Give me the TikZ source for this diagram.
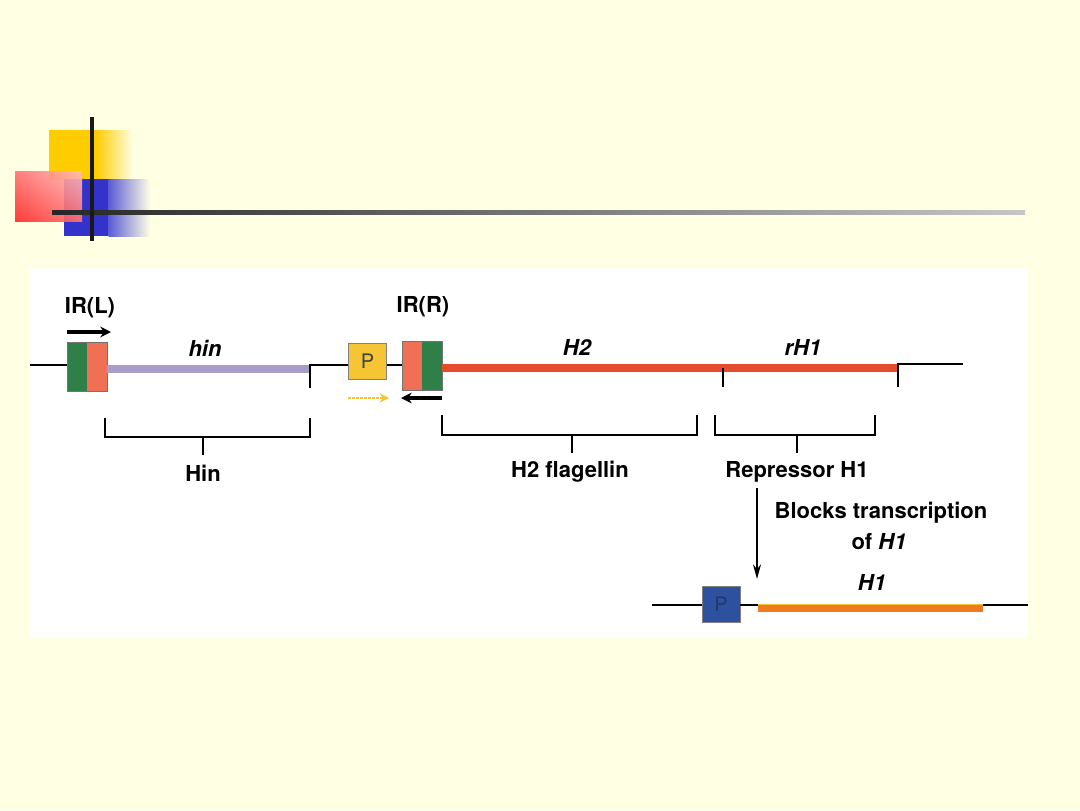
\documentclass[tikz,border=0pt]{standalone}
\usepackage{fontspec}
\newfontfamily\hv{TeX Gyre Heros}
\usetikzlibrary{arrows.meta,shadings,calc}
\definecolor{bgy}{HTML}{FFFFE4}
\definecolor{decoyel}{HTML}{FFCC00}
\definecolor{decoblue}{HTML}{3333CC}
\definecolor{decored}{HTML}{FF2828}
\definecolor{irgreen}{HTML}{2E8048}
\definecolor{irorange}{HTML}{F07055}
\definecolor{hinpurple}{HTML}{A99CCB}
\definecolor{hred}{HTML}{E64B2B}
\definecolor{pyellow}{HTML}{F5C535}
\definecolor{pblue}{HTML}{2D509F}
\definecolor{horange}{HTML}{F07A22}
\tikzset{
  lbl/.style={font=\hv\bfseries\fontsize{16.5}{19}\selectfont, inner sep=0pt, align=center},
  ilbl/.style={font=\hv\bfseries\itshape\fontsize{16.5}{19}\selectfont, inner sep=0pt},
  dna/.style={line width=1.1pt, black},
  brk/.style={line width=1.3pt, black},
  irbox/.style={minimum width=30pt, minimum height=36.75pt, inner sep=0pt, draw=black!55, line width=0.6pt},
  promoter/.style={minimum width=29pt, minimum height=27.5pt, inner sep=0pt, draw=black!50, line width=0.6pt,
     font=\hv\fontsize{15}{16}\selectfont},
  genebar/.style={line width=6pt},
  dirarrow/.style={line width=2.6pt, -{Stealth[length=8pt,width=8pt]}},
}
\begin{document}
\begin{tikzpicture}[x=0.75pt,y=-0.75pt]
\useasboundingbox (0,0) rectangle (1080,810);
\fill[bgy] (0,0) rectangle (1080,810);
% decoration
\fill[decoyel] (49,130) rectangle (96,180);
\shade[left color=decoyel, right color=bgy] (95.5,130) rectangle (133,180);
\fill[decoblue] (64,179) rectangle (109,236);
\shade[left color=decoblue!80, right color=bgy] (108.5,179) rectangle (150,236);
\shade[opacity=0.9, lower left=decored, upper right=decored!30, upper left=decored!65, lower right=decored!65] (15,171) rectangle (82,221);
\shade[left color=black!85, right color=black!22] (52,210.5) rectangle (1025,214);
\draw[line width=2.4pt, black!90] (92,117) -- (92,241);
% panel
\fill[white] (30,268) rectangle (1028,637);
% top construct
\node[irbox, path picture={
   \fill[irgreen] (path picture bounding box.south west) rectangle (path picture bounding box.north);
   \fill[irorange] (path picture bounding box.south) rectangle (path picture bounding box.north east);}]
   (irl) at (87,366.5) {};
\node[promoter, fill=pyellow] (pyel) at (367.5,361.5) {\textcolor{black!75}{P}};
\node[irbox, path picture={
   \fill[irorange] (path picture bounding box.south west) rectangle (path picture bounding box.north);
   \fill[irgreen] (path picture bounding box.south) rectangle (path picture bounding box.north east);}]
   (irr) at (422,365.5) {};
\coordinate (lstart) at (30,365);
\coordinate (hinend) at (309,369);
\coordinate (hinbrk) at (310,388);
\coordinate (h2end) at (898,368);
\coordinate (rtick) at (898,387);
\coordinate (rend) at (963,364);
\coordinate (midtick) at (723,387);
\draw[dna] (lstart) -- (lstart -| irl.west);
\draw[genebar, hinpurple] (irl.east |- hinend) -- (hinend);
\draw[dna] (hinbrk) -- (hinbrk |- lstart) -- (pyel.west |- lstart);
\draw[dna] (pyel.east |- lstart) -- (irr.west |- lstart);
\draw[genebar, hred] (irr.east |- h2end) -- (h2end);
\draw[dna] (midtick) -- (midtick |- h2end);
\draw[dna] (rtick) -- (rtick |- rend) -- (rend);
% arrows
\coordinate (al1) at (67,332); \coordinate (al2) at (111,332);
\draw[dirarrow] (al1) -- (al2);
\coordinate (ar1) at (442,398); \coordinate (ar2) at (401,398);
\draw[dirarrow] (ar1) -- (ar2);
\coordinate (ay1) at (348,398); \coordinate (ay2) at (389,398);
\draw[line width=2pt, pyellow, densely dotted, -{Stealth[length=7pt,width=7pt]}] (ay1) -- (ay2);
% labels
\node[lbl] (tirl) at (90,308) {IR(L)};
\node[lbl] (tirr) at (423,307) {IR(R)};
\node[ilbl] (thin) at (205,348) {hin};
\node[ilbl] (th2) at (577,347) {H2};
\node[ilbl] (trh1) at (803,347) {rH1};
% brackets
\draw[brk] (105,418) -- (105,437) -- (310,437) -- (310,418);
\draw[brk] (203,437) -- (203,455);
\node[lbl] (hinp) at (203,473) {Hin};
\draw[brk] (442,415) -- (442,435) -- (697,435) -- (697,415);
\draw[brk] (572,435) -- (572,453);
\node[lbl] (h2f) at (570,472) {H2 flagellin};
\draw[brk] (715,415) -- (715,435) -- (875,435) -- (875,415);
\draw[brk] (797,435) -- (797,453);
\node[lbl] (rep) at (797,472) {Repressor H1};
% blocking arrow
\coordinate (bt) at (757,488); \coordinate (bb) at (757,579);
\draw[line width=1.2pt, -{Stealth[length=11pt,width=6pt]}] (bt) -- (bb);
\node[lbl] (blk1) at (881,513) {Blocks transcription};
\node[lbl] (blk2) at (879,542) {of \textit{H1}};
\node[ilbl] (th1) at (872,582) {H1};
% bottom construct
\node[promoter, fill=pblue, minimum width=28.5pt, minimum height=27pt] (pbl) at (721,604) {\textcolor{pblue!70!black}{P}};
\coordinate (bstart) at (652,605);
\coordinate (h1s) at (758,608);
\coordinate (h1e) at (983,608);
\coordinate (bend) at (1028,605);
\draw[dna] (bstart) -- (pbl.west |- bstart);
\draw[dna] (pbl.east |- bstart) -- (h1s |- bstart);
\draw[genebar, horange] (h1s) -- (h1e);
\draw[line width=1pt, pyellow] ($(h1s)+(0,-3.5)$) -- ($(h1e)+(0,-3.5)$);
\draw[dna] (h1e |- bend) -- (bend);
\end{tikzpicture}
\end{document}
